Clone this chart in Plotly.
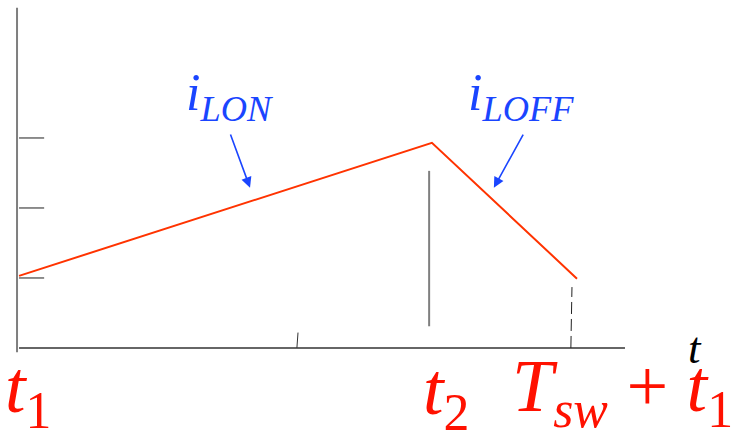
import plotly.graph_objects as go

# ---- data (time in units of Tsw, current in arbitrary units) ----
t_points = [0.0, 0.740, 1.0]          # t1, t2, Tsw + t1
i_points = [1.03, 2.93, 0.99]         # inductor current at those instants
y_ticks = [1, 2, 3]                   # tick levels on the current axis
x_mid_tick = 0.5                      # small tick on time axis
t2_marker = 0.735                     # vertical guide at t2
tsw_marker = 0.991                    # dashed guide at Tsw + t1

RED_LINE = "#ff3300"
RED_TXT = "#ff1100"
BLUE = "#1a45ff"
SERIF = "Liberation Serif, Times New Roman, serif"

fig = go.Figure()

# y axis line
fig.add_trace(go.Scatter(x=[-0.0036, -0.0036], y=[-0.06, 4.86], mode="lines",
                         line=dict(color="#7f7f7f", width=2), hoverinfo="skip"))
# x axis line
fig.add_trace(go.Scatter(x=[0.0, 1.086], y=[0.0, 0.0], mode="lines",
                         line=dict(color="#333333", width=1.5), hoverinfo="skip"))
# y ticks
for v in y_ticks:
    fig.add_trace(go.Scatter(x=[0.0, 0.045], y=[v, v], mode="lines",
                             line=dict(color="#444444", width=1.2), hoverinfo="skip"))
# mid x tick
fig.add_trace(go.Scatter(x=[x_mid_tick - 0.002, x_mid_tick], y=[0.0, 0.22], mode="lines",
                         line=dict(color="#333333", width=1), hoverinfo="skip"))
# t2 vertical guide
fig.add_trace(go.Scatter(x=[t2_marker, t2_marker], y=[0.31, 2.53], mode="lines",
                         line=dict(color="#7f7f7f", width=2), hoverinfo="skip"))
# Tsw dashed guide
fig.add_trace(go.Scatter(x=[tsw_marker - 0.002, tsw_marker], y=[0.0, 0.87], mode="lines",
                         line=dict(color="#222222", width=1, dash="12px,5px"), hoverinfo="skip"))
# inductor current
fig.add_trace(go.Scatter(x=t_points, y=i_points, mode="lines",
                         line=dict(color=RED_LINE, width=2), hoverinfo="skip"))

annotations = [
    # arrows
    dict(x=0.414, y=2.29, ax=0.378, ay=3.07, axref="x", ayref="y", xref="x", yref="y",
         showarrow=True, arrowhead=2, arrowsize=1.3, arrowwidth=1.6, arrowcolor=BLUE, text=""),
    dict(x=0.851, y=2.29, ax=0.905, ay=3.07, axref="x", ayref="y", xref="x", yref="y",
         showarrow=True, arrowhead=2, arrowsize=1.3, arrowwidth=1.6, arrowcolor=BLUE, text=""),
    # blue labels
    dict(x=0.378, y=3.59, text="<i>i<sub>LON</sub></i>", showarrow=False,
         font=dict(family=SERIF, size=52, color=BLUE), xanchor="center", yanchor="middle"),
    dict(x=0.900, y=3.59, text="<i>i<sub>LOFF</sub></i>", showarrow=False,
         font=dict(family=SERIF, size=52, color=BLUE), xanchor="center", yanchor="middle"),
    # time labels
    dict(x=0.016, y=-0.64, text="<i>t</i><sub>1</sub>", showarrow=False,
         font=dict(family=SERIF, size=74, color=RED_TXT), xanchor="center", yanchor="middle"),
    dict(x=0.765, y=-0.67, text="<i>t</i><sub>2</sub>", showarrow=False,
         font=dict(family=SERIF, size=74, color=RED_TXT), xanchor="center", yanchor="middle"),
    dict(x=1.081, y=-0.62, text="<i>T<sub>sw</sub></i> + <i>t</i><sub>1</sub>", showarrow=False,
         font=dict(family=SERIF, size=74, color=RED_TXT), xanchor="center", yanchor="middle"),
    dict(x=1.211, y=0.0, text="<i>t</i>", showarrow=False,
         font=dict(family=SERIF, size=45, color="#000000"), xanchor="center", yanchor="middle"),
]

fig.update_layout(
    width=732, height=434,
    margin=dict(l=0, r=0, t=0, b=0),
    paper_bgcolor="white", plot_bgcolor="white",
    showlegend=False,
    xaxis=dict(range=[-0.0341, 1.2778], visible=False, fixedrange=True),
    yaxis=dict(range=[-1.229, 4.971], visible=False, fixedrange=True),
    annotations=annotations,
)

fig.write_html("out.html", config={"displayModeBar": False},
               post_script="document.body.style.margin='0';document.body.style.overflow='hidden';")
